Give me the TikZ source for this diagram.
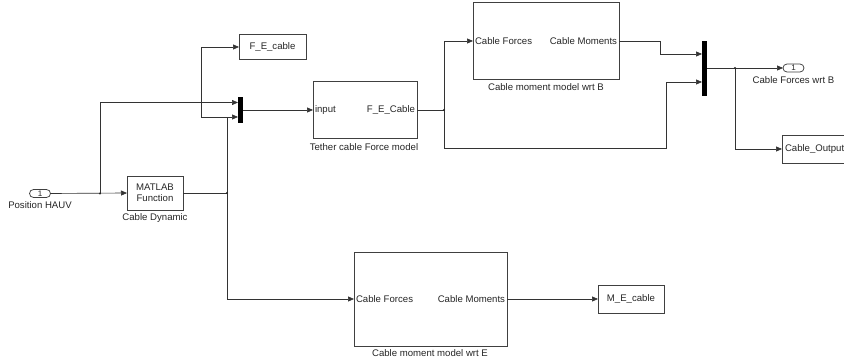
\documentclass[tikz,border=0pt]{standalone}
\usepackage{fontspec}
\setmainfont{Liberation Sans}
\usetikzlibrary{arrows.meta}
\begin{document}
\begin{tikzpicture}[x=1pt,y=-1pt,
  every node/.style={font=\fontsize{9.6}{10.8}\selectfont, inner sep=0pt, outer sep=0pt, text=black!85},
  blk/.style={draw=black!75, line width=0.75pt, fill=white},
  wire/.style={draw=black!80, line width=0.65pt},
  arr/.style={wire, -{Triangle[length=6pt,width=5pt]}},
  muxbar/.style={fill=black, draw=none},
  port/.style={draw=black!75, line width=0.75pt, rounded corners=4pt, minimum width=21pt, minimum height=8pt},
  dot/.style={circle, fill=black!85, minimum size=2.4pt}
]
\clip (0,0) rectangle (844,363);
\fill[white] (0,0) rectangle (844,363);

% blocks
\node[port] (in1) at (40,193.5) {\fontsize{8}{8}\selectfont 1};
\node (in1l) at (40,205) {Position HAUV};

\node[blk, minimum width=56pt, minimum height=34pt, align=center] (mat) at (155,193) {MATLAB\\Function};
\node (matl) at (155,218) {Cable Dynamic};

\node[blk, minimum width=67pt, minimum height=25pt] (fe) at (272.5,47) {F\_E\_cable};

\node[muxbar, minimum width=5pt, minimum height=26pt] (mux1) at (240.5,110) {};

\node[blk, minimum width=104pt, minimum height=57pt] (tet) at (365,110) {};
\node[anchor=west] (tetin) at ([xshift=2pt]tet.west) {input};
\node[anchor=east] (tetout) at ([xshift=-2pt]tet.east) {F\_E\_Cable};
\node (tetl) at (364,147) {Tether cable Force model};

\node[blk, minimum width=146pt, minimum height=77pt] (bm) at (546,41) {};
\node[anchor=west] (bmin) at ([xshift=2pt]bm.west) {Cable Forces};
\node[anchor=east] (bmout) at ([xshift=-2pt]bm.east) {Cable Moments};
\node (bml) at (546,87) {Cable moment model wrt B};

\node[muxbar, minimum width=5pt, minimum height=55pt] (mux2) at (704.5,68.5) {};

\node[port] (out1) at (793.5,68) {\fontsize{8}{8}\selectfont 1};
\node (out1l) at (793.5,80) {Cable Forces wrt B};

\node[blk, minimum width=90pt, minimum height=28pt] (co) at (827,149) {};
\node[anchor=west] (cot) at ([xshift=3pt]co.west) {Cable\_Output};

\node[blk, minimum width=153pt, minimum height=94pt] (em) at (430.5,299) {};
\node[anchor=west] (emin) at ([xshift=2pt]em.west) {Cable Forces};
\node[anchor=east] (emout) at ([xshift=-2pt]em.east) {Cable Moments};
\node (eml) at (430,353) {Cable moment model wrt E};

\node[blk, minimum width=66pt, minimum height=28pt] (me) at (631,299) {M\_E\_cable};

% coordinates
\coordinate (j1) at (100,193.5);
\coordinate (j2) at (227,193);
\coordinate (b1) at (227,117);
\coordinate (m1a) at (238,102.5);
\coordinate (m1b) at (238,117);
\coordinate (j3) at (444,110);
\coordinate (m2a) at (702,54);
\coordinate (m2b) at (702,82);
\coordinate (j4) at (735,68);

% connectors
\draw[arr] (in1.east) -- (mat.west);
\draw[arr] (j1) |- (m1a);
\draw[wire] (mat.east) -- (j2);
\draw[arr] (j2) -- (b1) -- (m1b);
\draw[arr] (b1) -- (201,117) |- (fe.west);
\draw[arr] (j2) |- (em.west);
\draw[arr] (mux1.east) -- (tet.west);
\draw[wire] (tet.east) -- (j3);
\draw[arr] (j3) |- (bm.west);
\draw[arr] (j3) -- (444,148) -- (666,148) -- (666,82) -- (m2b);
\draw[arr] (bm.east) -- (660,41) -- (660,54) -- (m2a);
\draw[arr] (mux2.east |- j4) -- (out1.west);
\draw[arr] (j4) |- (co.west);
\draw[arr] (em.east) -- (me.west);

\node[dot] (d1) at (j1) {};
\node[dot] (d2) at (j2) {};
\node[dot] (d3) at (j3) {};
\node[dot] (d4) at (j4) {};
\end{tikzpicture}
\end{document}
